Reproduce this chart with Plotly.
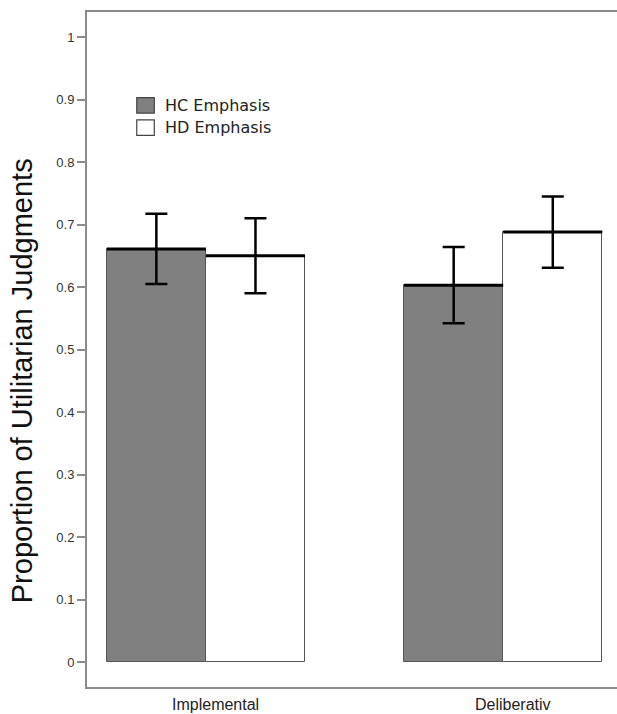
import plotly.graph_objects as go

# ---- data ----
conditions = ["Implemental", "Deliberativ"]
series_names = ["HC Emphasis", "HD Emphasis"]
hc_values = [0.661, 0.603]
hd_values = [0.650, 0.688]
hc_errors = [0.056, 0.061]
hd_errors = [0.060, 0.057]
y_ticks = [0, 0.1, 0.2, 0.3, 0.4, 0.5, 0.6, 0.7, 0.8, 0.9, 1]
y_tick_labels = ["0", "0.1", "0.2", "0.3", "0.4", "0.5", "0.6", "0.7", "0.8", "0.9", "1"]

# R barplot layout: bar width 1, groups separated by a gap of 1
hc_x = [1.5, 4.5]
hd_x = [2.5, 5.5]
group_centers = [2.0, 5.0]

GRAY = "#808080"
FRAME = "#8c8c8c"

fig = go.Figure()

for xs, vals, errs, fill, name in [
    (hc_x, hc_values, hc_errors, GRAY, series_names[0]),
    (hd_x, hd_values, hd_errors, "white", series_names[1]),
]:
    fig.add_trace(go.Bar(
        x=xs, y=vals, width=1, name=name,
        marker=dict(color=fill, line=dict(color="#555555", width=1)),
        showlegend=False, hoverinfo="skip",
    ))

# thick black line on top of each bar
for xs, vals in [(hc_x, hc_values), (hd_x, hd_values)]:
    lx, ly = [], []
    for x, v in zip(xs, vals):
        lx += [x - 0.5, x + 0.5, None]
        ly += [v, v, None]
    fig.add_trace(go.Scatter(x=lx, y=ly, mode="lines",
                             line=dict(color="black", width=3),
                             showlegend=False, hoverinfo="skip"))

# error bars
for xs, vals, errs in [(hc_x, hc_values, hc_errors), (hd_x, hd_values, hd_errors)]:
    fig.add_trace(go.Scatter(
        x=xs, y=vals, mode="markers",
        marker=dict(size=1, color="rgba(0,0,0,0)"),
        error_y=dict(type="data", array=errs, visible=True,
                     color="black", thickness=2.5, width=11),
        showlegend=False, hoverinfo="skip",
    ))

# manual legend (squares + text)
legend_fills = [GRAY, "white"]
legend_y = [0.8906, 0.855]
for fill, name, yc in zip(legend_fills, series_names, legend_y):
    fig.add_shape(type="rect", xref="x", yref="y",
                  x0=1.302, x1=1.479, y0=yc - 0.0125, y1=yc + 0.0125,
                  fillcolor=fill, line=dict(color="#444444", width=1.2))
    fig.add_annotation(x=1.570, y=yc, xref="x", yref="y", text=name,
                       showarrow=False, xanchor="left", yanchor="middle",
                       font=dict(family="DejaVu Sans", size=16, color="#222222"))

# category labels
for xc, lab in zip(group_centers, conditions):
    fig.add_annotation(x=xc + 0.095, y=0, xref="x", yref="paper", text=lab,
                       showarrow=False, xanchor="center", yanchor="middle",
                       yshift=-17,
                       font=dict(family="Liberation Sans, Arial", size=16, color="#222222"))

# y-axis title
fig.add_annotation(x=-0.1226, y=0.453, xref="paper", yref="paper",
                   text="Proportion of Utilitarian Judgments", textangle=-90,
                   showarrow=False, xanchor="center", yanchor="middle",
                   font=dict(family="Liberation Sans, Arial", size=29, color="#111111"))

fig.update_layout(
    width=617, height=714,
    margin=dict(l=87, r=0, t=12, b=27),
    paper_bgcolor="white", plot_bgcolor="white",
    barmode="overlay", bargap=0,
    xaxis=dict(range=[0.8, 6.148], showgrid=False, zeroline=False,
               showticklabels=False, ticks="",
               showline=True, mirror=True, linecolor=FRAME, linewidth=2),
    yaxis=dict(range=[-0.04, 1.04], showgrid=False, zeroline=False,
               tickvals=y_ticks, ticktext=y_tick_labels,
               ticks="outside", ticklen=8, tickwidth=1.5, tickcolor=FRAME,
               tickfont=dict(family="Liberation Sans, Arial", size=13, color="#333333"),
               showline=True, linecolor=FRAME, linewidth=2),
)

fig.write_html(
    "out.html",
    config={"displayModeBar": False},
    post_script="document.body.style.margin='0';document.body.style.overflow='hidden';",
)
